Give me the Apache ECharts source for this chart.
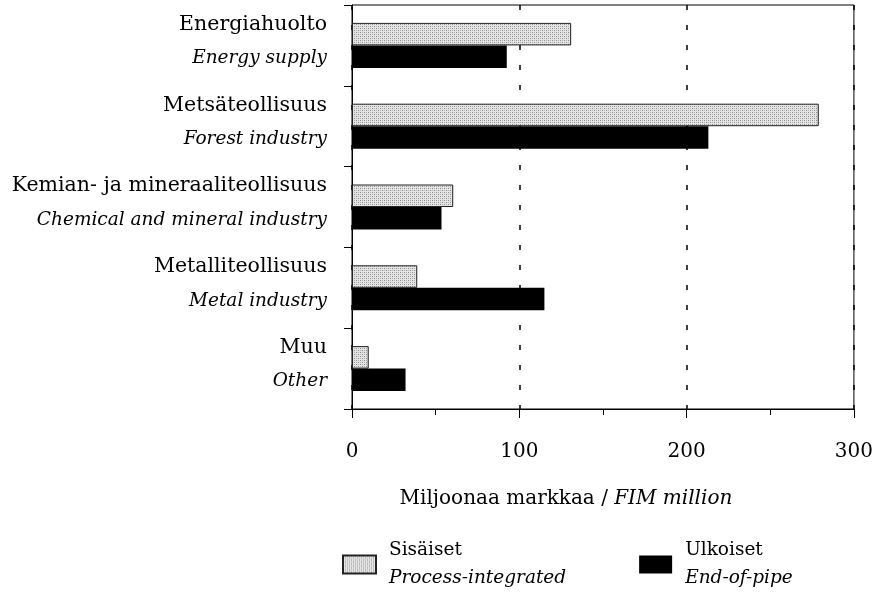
<!DOCTYPE html>
<html><head><meta charset="utf-8">
<script src="https://cdn.jsdelivr.net/npm/echarts@6/dist/echarts.min.js"></script>
<style>html,body{margin:0;padding:0;background:#fff}#c{width:876px;height:600px}</style>
</head><body><div id="c"></div>
<script>
const categoriesFi = ['Energiahuolto','Metsäteollisuus','Kemian- ja mineraaliteollisuus','Metalliteollisuus','Muu'];
const categoriesEn = ['Energy supply','Forest industry','Chemical and mineral industry','Metal industry','Other'];
const processIntegrated = [131, 279, 60.5, 39, 10];
const endOfPipe = [92.5, 213, 53.5, 115, 32];
const xTicks = [0, 100, 200, 300];

const SERIF = '"DejaVu Serif", "Liberation Serif", serif';

// stipple pattern for the light bars
const pc = document.createElement('canvas');
pc.width = 4; pc.height = 4;
const pctx = pc.getContext('2d');
pctx.fillStyle = '#e4e4e4'; pctx.fillRect(0,0,4,4);
pctx.fillStyle = '#8a8a8a';
pctx.fillRect(0,0,1,1); pctx.fillRect(2,2,1,1);
pctx.fillStyle = '#b5b5b5';
pctx.fillRect(2,0,1,1); pctx.fillRect(0,2,1,1);
const pattern = {image: pc, repeat: 'repeat'};

const chart = echarts.init(document.getElementById('c'), null, {renderer: 'canvas'});
chart.setOption({
  backgroundColor: '#fff',
  animation: false,
  grid: {left: 352, right: 21, top: 5, bottom: 191, show: true, borderColor: '#000', borderWidth: 1},
  xAxis: {
    type: 'value', min: 0, max: 300, interval: 100,
    axisLine: {show: true, lineStyle: {color: '#000', width: 1}},
    axisTick: {show: true, length: 9, lineStyle: {color: '#000'}},
    minorTick: {show: true, splitNumber: 2, length: 6, lineStyle: {color: '#000'}},
    splitLine: {show: true, lineStyle: {color: '#000', type: [5, 15], width: 1.5}},
    axisLabel: {margin: 33, fontFamily: SERIF, fontSize: 20, color: '#000',
      formatter: v => xTicks.includes(v) ? String(v) : ''},
    name: '{a|Miljoonaa markkaa / }{b|FIM million}',
    nameLocation: 'middle', nameGap: 80,
    nameTextStyle: {padding: [0, 74, 0, 0],
      rich: {a: {fontFamily: SERIF, fontSize: 20, color: '#000'},
             b: {fontFamily: SERIF, fontStyle: 'italic', fontSize: 20, color: '#000'}}}
  },
  yAxis: {
    type: 'category', inverse: true,
    data: categoriesFi.map((c, i) => c + '\n' + categoriesEn[i]),
    axisLine: {show: true, lineStyle: {color: '#000'}},
    axisTick: {show: true, length: 8, lineStyle: {color: '#000'}},
    splitLine: {show: false},
    axisLabel: {margin: 25, color: '#000', padding: [0, 0, 8, 0],
      formatter: v => { const p = v.split('\n'); return '{a|' + p[0] + '}\n{b|' + p[1] + '}'; },
      rich: {a: {fontFamily: SERIF, fontSize: 20.5, lineHeight: 34, color: '#000', align: 'right'},
             b: {fontFamily: SERIF, fontStyle: 'italic', fontSize: 18.5, lineHeight: 34, color: '#000', align: 'right'}}}
  },
  legend: {
    left: 337, top: 536, itemWidth: 33, itemHeight: 18, itemGap: 73,
    icon: 'rect',
    data: ['Sisäiset', 'Ulkoiset'],
    formatter: n => n === 'Sisäiset' ? '{a|Sisäiset}\n{b|Process-integrated}' : '{a|Ulkoiset}\n{b|End-of-pipe}',
    textStyle: {padding: [0, 0, 0, 8],
      rich: {a: {fontFamily: SERIF, fontSize: 18.5, lineHeight: 28, color: '#000'},
             b: {fontFamily: SERIF, fontStyle: 'italic', fontSize: 18.5, lineHeight: 28, color: '#000'}}}
  },
  series: [
    {name: 'Sisäiset', type: 'bar', data: processIntegrated, barWidth: 22.5, barGap: '0%',
     itemStyle: {color: pattern, borderColor: '#222', borderWidth: 1}},
    {name: 'Ulkoiset', type: 'bar', data: endOfPipe, barWidth: 22.5, barGap: '0%',
     itemStyle: {color: '#000', borderColor: '#000', borderWidth: 0}}
  ]
});
</script></body></html>
